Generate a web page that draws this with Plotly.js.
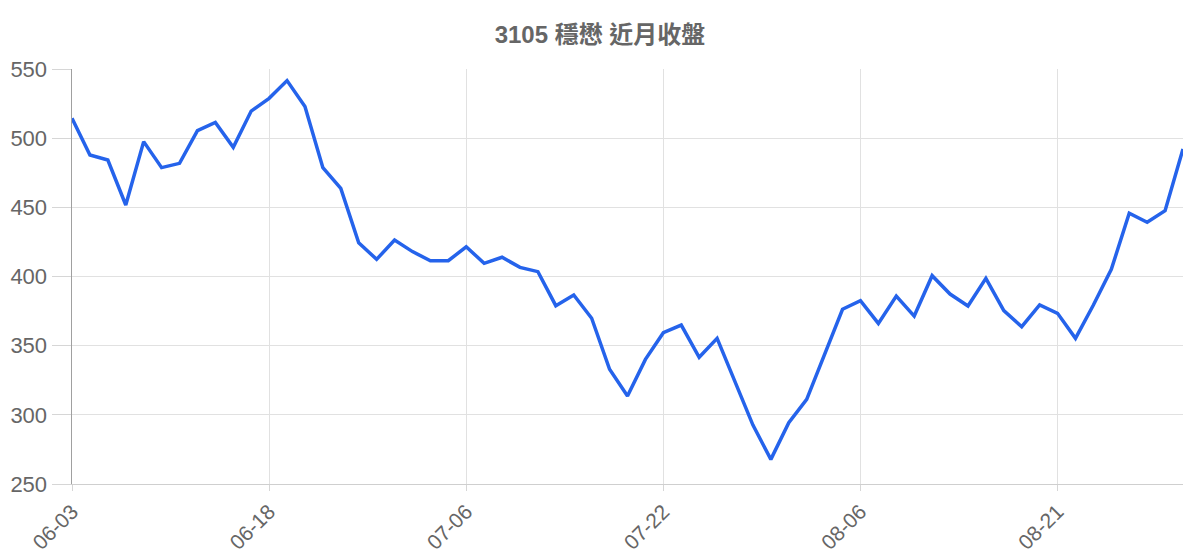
<!DOCTYPE html>
<html>
<head>
<meta charset="utf-8">
<script src="https://cdn.plot.ly/plotly-3.0.1.min.js"></script>
<style>
  html, body { margin: 0; padding: 0; background: #fff; }
  #chart { width: 1200px; height: 560px; }
</style>
</head>
<body>
<div id="chart"></div>
<script>
// trading days shown on the x axis
const dates = [
  "06-03","06-04","06-05","06-08","06-09","06-10","06-11","06-12","06-15","06-16","06-17",
  "06-18","06-19","06-20","06-22","06-23","06-24","06-29","06-30","07-01","07-02","07-03",
  "07-06","07-07","07-08","07-09","07-13","07-14","07-15","07-16","07-17","07-20","07-21",
  "07-22","07-23","07-24","07-27","07-28","07-29","07-30","07-31","08-03","08-04","08-05",
  "08-06","08-07","08-10","08-11","08-12","08-13","08-14","08-17","08-18","08-19","08-20",
  "08-21","08-24","08-25","08-26","08-27","08-28","08-31","09-01"
]

// closing prices
const closes = [
  514.4, 487.8, 484.2, 451.7, 497.5, 478.7, 481.8, 505.4, 511.4, 493.4, 519.6,
  528.8, 541.6, 522.8, 478.7, 463.7, 424.4, 412.4, 426.4, 418.0, 411.4, 411.4,
  421.5, 409.5, 413.9, 406.6, 403.5, 378.9, 386.6, 369.8, 332.9, 313.6, 340.1,
  359.4, 364.9, 341.6, 355.3, 324.0, 292.6, 267.8, 294.3, 311.2, 343.2, 376.3,
  382.5, 366.1, 385.9, 371.4, 400.6, 387.3, 378.7, 398.7, 375.3, 363.7, 379.4,
  373.4, 355.3, 379.4, 405.2, 445.7, 439.2, 447.6, 492.2
]

const tickDates = ["06-03","06-18","07-06","07-22","08-06","08-21"]

const chartTitle = "3105 穩懋 近月收盤"

const font = "'Liberation Sans', Arial, 'Noto Sans CJK TC', sans-serif"
const grid = "#e1e1e1"

const trace = {
  x: dates,
  y: closes,
  type: "scatter",
  mode: "lines",
  line: { color: "#2563eb", width: 3.5 },
  hoverinfo: "x+y"
}

const layout = {
  width: 1200,
  height: 560,
  margin: { l: 72, r: 17, t: 69, b: 76 },
  paper_bgcolor: "#fff",
  plot_bgcolor: "#fff",
  showlegend: false,
  font: { family: font, color: "#666" },
  title: {
    text: "<b>" + chartTitle + "</b>",
    font: { family: font, size: 24, color: "#666" },
    x: 0.5,
    xref: "container",
    xanchor: "center",
    y: 1 - 35 / 560,
    yref: "container",
    yanchor: "middle"
  },
  xaxis: {
    type: "category",
    categoryorder: "array",
    categoryarray: dates,
    range: [0, dates.length - 1],
    tickmode: "array",
    tickvals: tickDates,
    tickangle: -45,
    tickfont: { size: 21, color: "#666" },
    showgrid: true,
    gridcolor: grid,
    gridwidth: 1,
    ticks: "outside",
    ticklen: 6,
    tickcolor: "#d6d6d6",
    showline: true,
    linecolor: "#cfcfcf",
    zeroline: false,
    fixedrange: true
  },
  yaxis: {
    range: [250, 550],
    dtick: 50,
    tick0: 250,
    tickfont: { size: 22, color: "#666" },
    showgrid: true,
    gridcolor: grid,
    gridwidth: 1,
    ticks: "outside",
    ticklen: 19,
    tickcolor: "#d6d6d6",
    showline: true,
    linecolor: "#a0a0a0",
    linewidth: 1.5,
    zeroline: false,
    fixedrange: true
  }
}

Plotly.newPlot("chart", [trace], layout, { displayModeBar: false, staticPlot: true })
</script>
</body>
</html>
